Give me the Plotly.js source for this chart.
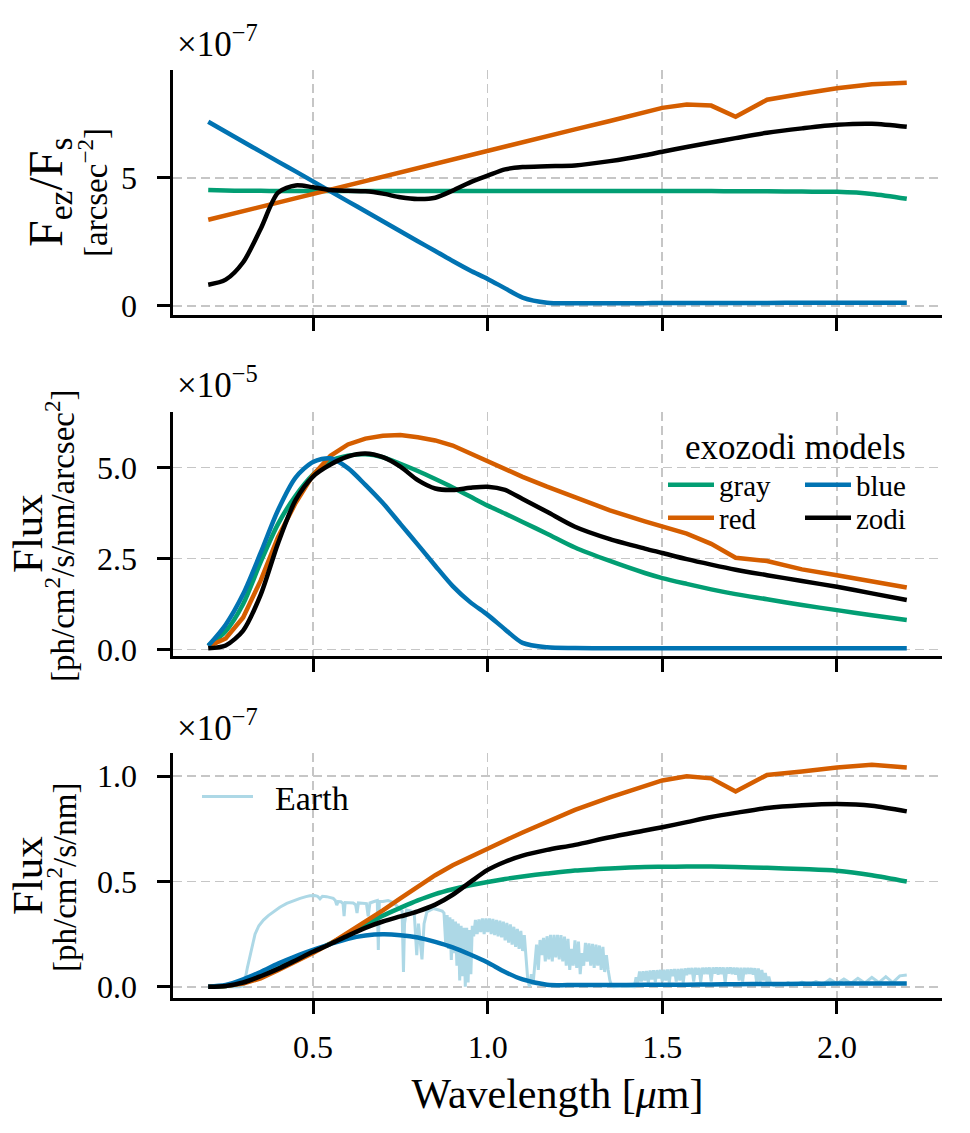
<!DOCTYPE html>
<html>
<head>
<meta charset="utf-8">
<script src="https://cdn.plot.ly/plotly-3.0.1.min.js"></script>
<style>html,body{margin:0;padding:0;background:#fff}#chart{width:970px;height:1133px}</style>
</head>
<body>
<div id="chart"></div>
<script>
// ---------------- data ----------------
// wavelength grid [micron] for the model curves
const WL = [0.20,0.25,0.30,0.35,0.40,0.45,0.50,0.55,0.60,0.65,0.70,0.75,0.80,0.85,0.90,0.95,1.00,1.05,1.10,1.17,1.25,1.35,1.45,1.50,1.57,1.64,1.71,1.80,1.90,2.00,2.10,2.20];

// top panel: F_ez / F_s  [units of 1e-7 arcsec^-2]
const RATIO_GRAY = [4.52,4.50,4.49,4.49,4.48,4.48,4.48,4.48,4.48,4.48,4.48,4.48,4.48,4.48,4.48,4.48,4.48,4.48,4.48,4.48,4.48,4.48,4.48,4.48,4.48,4.48,4.47,4.47,4.46,4.45,4.37,4.18];
const RATIO_RED  = [3.36,3.53,3.70,3.86,4.03,4.20,4.37,4.54,4.70,4.87,5.04,5.21,5.38,5.54,5.71,5.88,6.05,6.22,6.38,6.62,6.89,7.22,7.56,7.73,7.86,7.82,7.38,8.05,8.28,8.50,8.65,8.71];
const RATIO_BLUE = [7.19,6.80,6.41,6.02,5.63,5.25,4.86,4.47,4.08,3.69,3.30,2.91,2.52,2.14,1.75,1.38,1.05,0.68,0.32,0.12,0.10,0.10,0.10,0.11,0.11,0.11,0.11,0.11,0.12,0.12,0.12,0.12];
const RATIO_ZODI = [0.82,1.02,1.70,3.00,4.42,4.70,4.63,4.52,4.49,4.47,4.38,4.24,4.17,4.22,4.50,4.82,5.08,5.33,5.42,5.45,5.48,5.65,5.88,6.02,6.20,6.38,6.55,6.76,6.93,7.07,7.11,6.99];

// middle panel: exozodi surface brightness [units of 1e-5 ph/cm2/s/nm/arcsec2]
const SB_GRAY = [0.10,0.50,1.25,2.40,3.45,4.22,4.80,5.18,5.32,5.36,5.28,5.10,4.90,4.68,4.45,4.20,3.95,3.73,3.50,3.18,2.80,2.43,2.10,1.96,1.80,1.65,1.52,1.38,1.22,1.08,0.94,0.81];
const SB_RED  = [0.08,0.30,0.88,1.89,3.09,4.02,4.79,5.32,5.63,5.79,5.87,5.89,5.83,5.74,5.60,5.38,5.17,4.95,4.74,4.47,4.17,3.82,3.52,3.38,3.18,2.90,2.52,2.43,2.20,2.04,1.86,1.70];
const SB_BLUE = [0.10,0.68,1.52,2.65,3.83,4.72,5.15,5.25,4.98,4.52,4.02,3.45,2.88,2.30,1.74,1.30,0.95,0.55,0.18,0.06,0.04,0.03,0.03,0.03,0.03,0.03,0.03,0.03,0.03,0.03,0.03,0.03];
const SB_ZODI = [0.03,0.11,0.52,1.50,2.92,4.10,4.75,5.08,5.30,5.38,5.28,5.02,4.65,4.42,4.38,4.44,4.47,4.38,4.13,3.78,3.37,3.03,2.77,2.65,2.48,2.33,2.19,2.04,1.88,1.72,1.54,1.36];

// bottom panel: exozodi flux [units of 1e-7 ph/cm2/s/nm]
const FLUX_GRAY = [0.000,0.004,0.020,0.050,0.087,0.127,0.167,0.206,0.250,0.295,0.338,0.375,0.410,0.440,0.463,0.482,0.498,0.512,0.524,0.538,0.552,0.562,0.569,0.570,0.571,0.571,0.569,0.565,0.559,0.551,0.530,0.500];
const FLUX_RED  = [0.000,0.003,0.015,0.040,0.078,0.118,0.160,0.205,0.257,0.310,0.363,0.420,0.477,0.530,0.577,0.618,0.655,0.695,0.733,0.784,0.840,0.900,0.955,0.980,1.000,0.990,0.928,1.006,1.023,1.042,1.054,1.042];
const FLUX_BLUE = [0.000,0.008,0.035,0.070,0.110,0.145,0.175,0.203,0.228,0.243,0.249,0.245,0.234,0.213,0.187,0.153,0.115,0.070,0.035,0.010,0.008,0.008,0.009,0.010,0.010,0.011,0.012,0.013,0.014,0.015,0.015,0.016];
const FLUX_ZODI = [0.000,0.004,0.020,0.050,0.085,0.125,0.166,0.203,0.243,0.280,0.310,0.334,0.358,0.390,0.437,0.497,0.555,0.594,0.623,0.650,0.674,0.710,0.742,0.758,0.782,0.806,0.826,0.849,0.862,0.868,0.860,0.833];

// Earth spectrum [units of 1e-7 ph/cm2/s/nm]
const EARTH_WL = [
  0.20,0.25,0.29,0.300,0.305,0.312,0.319,0.326,0.334,0.345,
  0.358,0.372,0.386,0.405,0.425,0.445,0.463,0.480,0.491,0.505,
  0.513,0.520,0.527,0.539,0.550,0.558,0.564,0.568,0.572,0.580,
  0.586,0.589,0.592,0.605,0.615,0.622,0.626,0.630,0.645,0.653,
  0.658,0.663,0.675,0.684,0.687,0.690,0.700,0.715,0.730,0.745,
  0.755,0.759,0.762,0.768,0.780,0.790,0.797,0.802,0.808,0.812,
  0.818,0.826,0.845,0.855,0.864,0.870,0.875,0.880,0.884,0.888,
  0.892,0.896,0.900,0.904,0.908,0.912,0.916,0.920,0.924,0.928,
  0.932,0.936,0.940,0.944,0.948,0.952,0.956,
  0.960,0.965,0.970,0.975,0.980,0.985,0.990,0.995,1.000,1.005,
  1.010,1.015,1.020,1.025,1.030,1.035,1.040,1.045,1.050,1.055,
  1.060,1.065,1.070,1.075,1.080,1.085,1.090,1.095,1.100,1.105,
  1.110,1.115,1.120,1.125,1.130,1.135,1.140,1.145,1.150,1.155,
  1.160,1.165,1.170,1.175,1.180,1.185,1.190,1.195,1.200,1.205,
  1.210,1.215,1.220,1.225,1.230,1.235,1.240,1.245,1.250,1.255,
  1.260,1.265,1.270,1.275,1.280,1.285,1.290,1.295,1.300,1.305,
  1.310,1.315,1.320,1.325,1.330,1.335,1.340,1.345,1.350,1.355,
  1.360,1.390,1.420,
  1.425,1.430,1.435,1.440,1.445,1.450,1.455,1.460,1.465,1.470,
  1.475,1.480,1.485,1.490,1.495,1.500,1.505,1.510,1.515,1.520,
  1.525,1.530,1.535,1.540,1.545,1.550,1.555,1.560,1.565,1.570,
  1.575,1.580,1.585,1.590,1.595,1.600,1.605,1.610,1.615,1.620,
  1.625,1.630,1.635,1.640,1.645,1.650,1.655,1.660,1.665,1.670,
  1.675,1.680,1.685,1.690,1.695,1.700,1.705,1.710,1.715,1.720,
  1.725,1.730,1.735,1.740,1.745,1.750,1.755,1.760,1.765,1.770,
  1.775,1.780,1.785,1.790,1.795,1.800,1.805,1.810,
  1.820,1.850,1.860,1.880,1.900,1.920,1.940,1.960,1.980,2.000,
  2.020,2.040,2.060,2.080,2.100,2.120,2.140,2.160,2.180,2.200
];
const EARTH_FLUX = [
  0,0,0,0.005,0.03,0.09,0.14,0.20,0.25,0.29,
  0.317,0.338,0.356,0.378,0.396,0.410,0.420,0.428,0.432,0.433,
  0.430,0.418,0.430,0.428,0.425,0.420,0.410,0.388,0.405,0.404,
  0.395,0.335,0.400,0.400,0.398,0.390,0.350,0.398,0.398,0.395,
  0.335,0.398,0.405,0.410,0.175,0.405,0.405,0.410,0.400,0.375,
  0.360,0.070,0.300,0.364,0.360,0.345,0.150,0.300,0.200,0.130,
  0.300,0.356,0.372,0.368,0.364,0.360,0.350,0.200,0.340,0.180,
  0.330,0.127,0.320,0.160,0.310,0.100,0.300,0.030,0.290,0.050,
  0.280,0.000,0.280,0.020,0.270,0.060,0.290,
  0.240,0.317,0.250,0.320,0.260,0.325,0.250,0.325,0.260,0.325,
  0.250,0.322,0.245,0.318,0.240,0.314,0.235,0.309,0.220,0.303,
  0.210,0.296,0.200,0.285,0.190,0.275,0.180,0.265,0.170,0.245,
  0.120,0.030,0.000,0.060,0.010,0.120,0.200,0.080,0.222,0.150,
  0.232,0.120,0.240,0.130,0.246,0.120,0.246,0.140,0.246,0.130,
  0.245,0.120,0.238,0.100,0.228,0.080,0.180,0.100,0.220,0.090,
  0.214,0.060,0.160,0.100,0.208,0.120,0.206,0.100,0.204,0.090,
  0.200,0.100,0.196,0.080,0.190,0.070,0.150,0.080,0.030,0.005,
  0.000,0.003,0.000,
  0.045,0.020,0.072,0.025,0.074,0.030,0.075,0.020,0.077,0.035,
  0.078,0.022,0.079,0.040,0.080,0.025,0.081,0.030,0.082,0.020,
  0.083,0.050,0.084,0.025,0.085,0.030,0.086,0.020,0.087,0.055,
  0.088,0.060,0.089,0.025,0.090,0.058,0.090,0.022,0.091,0.060,
  0.091,0.060,0.092,0.025,0.092,0.062,0.092,0.058,0.092,0.060,
  0.092,0.020,0.092,0.062,0.092,0.060,0.091,0.058,0.091,0.030,
  0.090,0.025,0.090,0.060,0.089,0.062,0.089,0.058,0.088,0.022,
  0.087,0.020,0.080,0.030,0.065,0.020,0.048,0.015,
  0.005,0.010,0.020,0.008,0.022,0.010,0.024,0.012,0.035,0.015,
  0.037,0.016,0.040,0.018,0.045,0.020,0.048,0.020,0.052,0.056
];

const MODEL_NAMES = ['gray','red','blue','zodi'];
const X_TICKS = [0.5,1.0,1.5,2.0];
const X_TICKTEXT = ['0.5','1.0','1.5','2.0'];
const Y1_TICKS = [0,5], Y1_TEXT = ['0','5'];
const Y2_TICKS = [0,2.5,5], Y2_TEXT = ['0.0','2.5','5.0'];
const Y3_TICKS = [0,0.5,1], Y3_TEXT = ['0.0','0.5','1.0'];

// ---------------- style ----------------
const COLORS = {gray:'#029e73', red:'#d55e00', blue:'#0173b2', zodi:'#000000'};
const EARTH_COLOR = '#add8e6';
const FONT = 'Liberation Serif, Times New Roman, serif';
const W = 970, H = 1133;
const px = v => v / W;
const py = v => 1 - v / H;

const panels = [
  {xa:'x',  ya:'y',  data:{gray:RATIO_GRAY, red:RATIO_RED, blue:RATIO_BLUE, zodi:RATIO_ZODI}},
  {xa:'x2', ya:'y2', data:{gray:SB_GRAY, red:SB_RED, blue:SB_BLUE, zodi:SB_ZODI}, legend:true},
  {xa:'x3', ya:'y3', data:{gray:FLUX_GRAY, red:FLUX_RED, blue:FLUX_BLUE, zodi:FLUX_ZODI}}
];
const LEGEND_OF = {gray:'legend', red:'legend2', blue:'legend3', zodi:'legend4'};

const traces = [];
// Earth spectrum (behind)
traces.push({
  x: EARTH_WL, y: EARTH_FLUX, xaxis:'x3', yaxis:'y3', type:'scatter', mode:'lines',
  name:'\u00a0\u00a0Earth', line:{color:EARTH_COLOR, width:3}, legend:'legend5', showlegend:true
});
panels.forEach(p => {
  MODEL_NAMES.forEach(n => {
    const t = {
      x: WL, y: p.data[n], xaxis:p.xa, yaxis:p.ya, type:'scatter', mode:'lines', name:n,
      line:{color:COLORS[n], width:4.5, shape: n==='red' ? 'linear' : 'spline', smoothing:0.8},
      showlegend: !!p.legend
    };
    if (p.legend) t.legend = LEGEND_OF[n];
    traces.push(t);
  });
});

const axisBase = {
  showline:true, linecolor:'black', linewidth:3, mirror:false,
  ticks:'outside', ticklen:13, tickwidth:3, tickcolor:'black',
  showgrid:true, gridcolor:'#c6c6c6', gridwidth:1.6, griddash:'9px,5px',
  zeroline:false, tickfont:{family:FONT, size:32, color:'black'}
};
const xdom = [173.3/W, 941.7/W];
function xax(anchor, labels){
  return Object.assign({}, axisBase, {
    domain:xdom, anchor:anchor, range:[0.1,2.3], tickmode:'array',
    tickvals:X_TICKS, ticktext:X_TICKTEXT, showticklabels:labels, ticklabelstandoff:6
  });
}
function yax(anchor, dom, range, tv, tt){
  return Object.assign({}, axisBase, {
    domain:dom, anchor:anchor, range:range, tickmode:'array', tickvals:tv, ticktext:tt, ticklabelstandoff:14
  });
}
function leg(x, y, size, iw){
  return {x:px(x), y:py(y), xanchor:'left', yanchor:'middle', bgcolor:'rgba(0,0,0,0)',
          font:{family:FONT, size:size, color:'black'}, borderwidth:0, itemwidth:iw};
}

const layout = {
  width:W, height:H, margin:{l:0,r:0,t:0,b:0},
  paper_bgcolor:'white', plot_bgcolor:'white',
  font:{family:FONT, color:'black'},
  xaxis: xax('y', false),
  xaxis2: Object.assign(xax('y2', false), {matches:'x'}),
  xaxis3: Object.assign(xax('y3', true), {matches:'x',
    title:{text:'Wavelength [<i>μ</i>m]', font:{family:FONT, size:42, color:'black'}, standoff:15}}),
  yaxis: yax('x', [1-315/H, 1-70/H], [-0.36, 9.21], Y1_TICKS, Y1_TEXT),
  yaxis2: yax('x2', [1-656/H, 1-411.7/H], [-0.18, 6.53], Y2_TICKS, Y2_TEXT),
  yaxis3: yax('x3', [1-997.7/H, 1-753.3/H], [-0.052, 1.109], Y3_TICKS, Y3_TEXT),
  legend:  leg(663, 485, 29, 46),
  legend2: leg(663, 518, 29, 46),
  legend3: leg(800, 485, 29, 46),
  legend4: leg(800, 518, 29, 46),
  legend5: leg(197, 797, 34, 51),
  annotations: [
    // offset (scale) texts
    {text:'×10<sup>−7</sup>', xref:'paper', yref:'paper', x:px(175), y:py(66), xanchor:'left', yanchor:'bottom', showarrow:false, font:{family:FONT, size:35}},
    {text:'×10<sup>−5</sup>', xref:'paper', yref:'paper', x:px(175), y:py(407), xanchor:'left', yanchor:'bottom', showarrow:false, font:{family:FONT, size:35}},
    {text:'×10<sup>−7</sup>', xref:'paper', yref:'paper', x:px(175), y:py(750), xanchor:'left', yanchor:'bottom', showarrow:false, font:{family:FONT, size:35}},
    // y labels
    {text:'F<sub>ez</sub>/F<sub>s</sub>', xref:'paper', yref:'paper', x:px(49), y:py(192), textangle:-90, xanchor:'center', yanchor:'middle', showarrow:false, font:{family:FONT, size:48}},
    {text:'[arcsec<sup>−2</sup>]', xref:'paper', yref:'paper', x:px(93), y:py(193), textangle:-90, xanchor:'center', yanchor:'middle', showarrow:false, font:{family:FONT, size:33}},
    {text:'Flux', xref:'paper', yref:'paper', x:px(27), y:py(534), textangle:-90, xanchor:'center', yanchor:'middle', showarrow:false, font:{family:FONT, size:43}},
    {text:'[ph/cm<sup>2</sup>/s/nm/arcsec<sup>2</sup>]', xref:'paper', yref:'paper', x:px(60), y:py(536), textangle:-90, xanchor:'center', yanchor:'middle', showarrow:false, font:{family:FONT, size:33}},
    {text:'Flux', xref:'paper', yref:'paper', x:px(27), y:py(876), textangle:-90, xanchor:'center', yanchor:'middle', showarrow:false, font:{family:FONT, size:43}},
    {text:'[ph/cm<sup>2</sup>/s/nm]', xref:'paper', yref:'paper', x:px(62), y:py(877), textangle:-90, xanchor:'center', yanchor:'middle', showarrow:false, font:{family:FONT, size:33}},
    // legend title
    {text:'exozodi models', xref:'paper', yref:'paper', x:px(795), y:py(448), xanchor:'center', yanchor:'middle', showarrow:false, font:{family:FONT, size:35}}
  ]
};

Plotly.newPlot('chart', traces, layout, {displayModeBar:false, staticPlot:true});
</script>
</body>
</html>
